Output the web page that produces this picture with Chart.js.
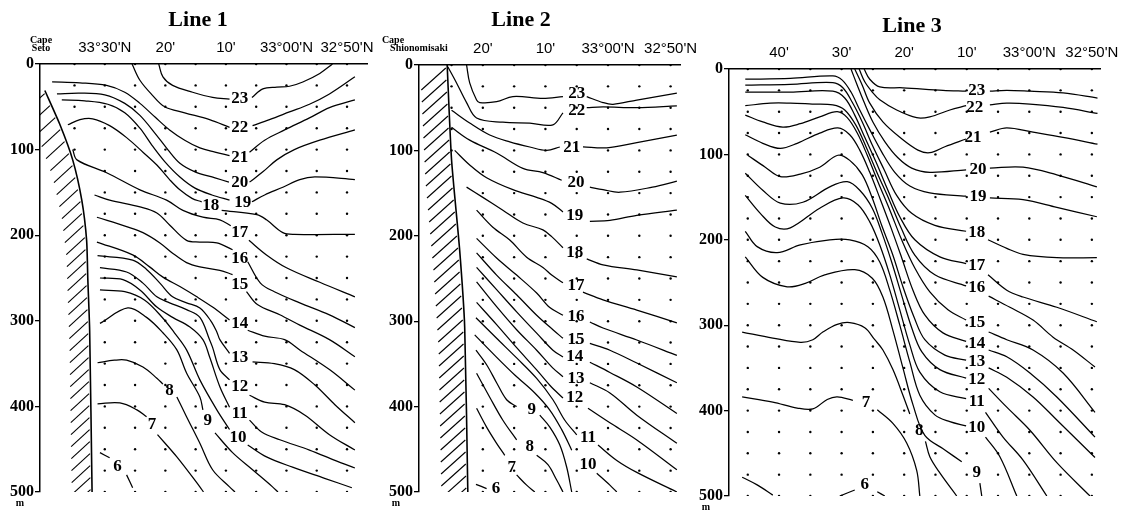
<!DOCTYPE html>
<html lang="en">
<head>
<meta charset="UTF-8">
<title>Temperature sections off Kii Peninsula</title>
<script src="https://cdn.jsdelivr.net/npm/chart.js"></script>
<style>
  body { margin: 0; background: #fff; }
  #wrap { position: relative; width: 1124px; height: 510px; }
  #wrap canvas { position: absolute; top: 0; }
</style>
</head>
<body>
<div id="wrap">
  <canvas id="line1" width="380" height="510" style="left:0"></canvas>
  <canvas id="line2" width="340" height="510" style="left:372px"></canvas>
  <canvas id="line3" width="440" height="510" style="left:684px"></canvas>
</div>
<script>
// x values are minutes of latitude north of 32°00' (33°30'N = 90), y is depth in m
const sampleDepths = [0, 25, 50, 75, 100, 125, 150, 175, 200, 225, 250, 275, 300, 325, 350, 375, 400, 425, 450, 475, 500];
const isotherms = [23, 22, 21, 20, 19, 18, 17, 16, 15, 14, 13, 12, 11, 10, 9, 8, 7, 6];

// ---- Line 1 (off Cape Seto) ----
const line1Stations = [95, 90, 85, 80, 75, 70, 65, 60, 55, 50];
const line1StationBottom = [100, 500, 500, 500, 500, 500, 500, 500, 500, 500];
const line1Ticks = [90, 80, 70, 60, 50];
const line1TickLabels = ["33°30'N", "20'", "10'", "33°00'N", "32°50'N"];
const line1Coast = [[99.9, 31], [97.4, 71], [95.3, 112], [93.8, 159], [93.0, 206], [92.8, 252], [92.5, 311], [92.1, 500]];
const line1Left = [
  [[81.1, 0], [80.4, 15], [78.8, 25], [75.5, 33], [72.2, 39], [69.4, 41]],
  [[85.5, 0], [84.2, 19], [82.2, 36], [80.1, 50], [76.8, 57], [72.7, 65], [69.4, 74]],
  [[98.7, 21], [94.1, 22], [89.7, 25], [86.7, 33], [84.2, 46], [81.7, 62], [79.3, 77], [76.8, 89], [74.3, 98], [71.8, 103], [69.4, 107]],
  [[97.9, 35], [94.1, 34], [90, 36], [86.7, 46], [84.2, 60], [81.7, 81], [79.6, 100], [77.6, 116], [75.1, 126], [71.8, 133], [69.5, 138]],
  [[97.1, 42], [93.3, 43], [89.5, 47], [86.7, 57], [84.2, 75], [82.2, 95], [80.1, 114], [77.6, 132], [75.1, 145], [72.3, 153], [69.4, 159]],
  [[96.1, 71], [94.1, 65], [92, 64], [89.2, 72], [86.4, 86], [83.7, 103], [81.4, 118], [79.3, 135], [77.6, 147], [75.6, 157], [74, 161]],
  [[95.3, 100], [94.6, 112], [89.7, 127], [84.2, 147], [79.8, 159], [77.1, 171], [73.8, 179], [71, 182], [69.2, 189]],
  [[91.7, 153], [89.2, 159], [84.2, 167], [81.4, 174], [79.3, 188], [76.5, 206], [74.3, 208], [71.5, 209], [68.9, 217]],
  [[91.3, 179], [86.4, 190], [83.7, 197], [80.9, 209], [78.8, 221], [76.5, 232], [74.3, 237], [71, 241], [68.9, 246]],
  [[91.3, 208], [85.4, 223], [82.6, 237], [80.4, 249], [77.6, 260], [74.8, 272], [72.2, 284], [69.4, 299]],
  [[91.2, 224], [85.4, 229], [83.1, 240], [80.9, 256], [78.8, 272], [76.5, 279], [74.3, 285], [72.5, 300], [71.5, 313], [71, 322], [69.4, 338]],
  [[90.8, 238], [86.4, 243], [83.7, 256], [81.4, 272], [79.3, 279], [76.5, 287], [74.3, 296], [72.7, 322], [72.2, 331], [71, 357], [69.4, 369]],
  [[90.8, 250], [87, 252], [84.2, 264], [81.4, 284], [78.8, 296], [76, 307], [73.8, 322], [72.7, 342], [71, 377], [69.4, 401]],
  [[90.8, 264], [86.7, 266], [83.4, 276], [80.4, 297], [78.5, 314], [76.5, 334], [74.3, 369], [71.5, 404], [69.4, 427]],
  [[90.8, 303], [86.2, 285], [83.1, 296], [80.4, 314], [78.1, 334], [76.5, 361], [74.3, 389], [73.8, 404]],
  [[91.2, 349], [88.4, 346], [86.4, 346], [83.7, 354], [81.4, 367], [80.4, 374]],
  [[91.2, 397], [87.5, 396], [84.7, 404], [83.1, 412]],
  [[90.8, 454], [89.2, 460]]
];
const line1Right = [
  [[65.7, 39], [63.9, 29], [61.6, 27], [59.5, 26], [57.3, 21], [54.5, 11], [52.4, 0]],
  [[65.6, 72], [62.8, 65], [59.5, 56], [56.2, 47], [52.9, 35], [48.7, 15]],
  [[66.1, 103], [63.6, 89], [60.3, 77], [56.2, 63], [52.9, 51], [48.7, 42]],
  [[66.1, 138], [63.9, 126], [61.6, 112], [58.7, 100], [54.5, 89], [48.7, 77]],
  [[65.7, 161], [63.6, 153], [60.6, 144], [57.8, 135], [55.3, 132], [48.7, 135]],
  [[70.7, 171], [64.9, 176], [63.3, 182], [60.6, 197], [58.7, 199], [48.7, 199]],
  [[66.2, 206], [63.3, 223], [60, 238], [54.5, 255], [48.7, 272]],
  [[66.4, 231], [64.3, 256], [62, 266], [57.8, 279], [52.9, 293], [48.7, 308]],
  [[66.6, 266], [64.8, 281], [61.1, 293], [57.8, 305], [52.9, 322], [48.7, 342]],
  [[66.4, 311], [63.6, 318], [60.3, 322], [57.8, 334], [52.9, 357], [48.7, 381]],
  [[65.6, 348], [62, 350], [58.7, 357], [55.3, 375], [52, 398], [48.7, 419]],
  [[66.1, 387], [63.6, 395], [60.3, 398], [57, 410], [52.9, 433], [48.7, 451]],
  [[66.1, 416], [64.1, 430], [61.1, 439], [56.2, 451], [52, 463], [48.7, 472]],
  [[66.4, 445], [63.3, 459], [59, 471], [53.7, 484], [49.2, 495]],
  [[71.8, 431], [68.9, 454], [65.6, 474], [62.3, 494], [61.4, 500]],
  [[78.1, 389], [76.5, 412], [74.3, 443], [72.2, 474], [69.4, 494], [68.5, 500]],
  [[81.3, 433], [78.1, 459], [74.3, 494], [73.7, 500]],
  [[86.4, 480], [85.4, 495]]
];
const line1LabelAt = [[67.7, 40], [67.7, 74], [67.7, 109], [67.7, 139], [67.2, 162], [72.5, 165], [67.7, 197], [67.7, 227], [67.7, 258],
  [67.7, 303], [67.7, 343], [67.7, 377], [67.7, 408], [68, 436], [73, 417], [79.3, 381], [82.2, 421], [87.9, 470]];

// ---- Line 2 (off Cape Shionomisaki) ----
const line2Stations = [85, 80, 75, 70, 65, 60, 55, 50];
const line2StationBottom = [100, 500, 500, 500, 500, 500, 500, 500];
const line2Ticks = [80, 70, 60, 50];
const line2TickLabels = ["20'", "10'", "33°00'N", "32°50'N"];
const line2Coast = [[85.7, 0], [85.0, 111], [83.7, 217], [82.9, 307], [82.4, 500]];
const line2Left = [
  [[82.6, 0], [82.1, 21], [81.0, 41], [80.5, 44], [77.8, 43], [75.2, 37], [70.4, 39], [67.2, 37]],
  [[85.6, 2], [84.2, 21], [82.6, 44], [81.0, 62], [76.8, 67], [72.5, 68], [68.8, 70], [67.2, 56]],
  [[85.0, 53], [82.1, 68], [78.9, 82], [75.7, 90], [72.5, 96], [69.8, 100], [67.7, 96]],
  [[85.0, 73], [82.1, 88], [77.8, 103], [73.6, 121], [70.4, 126], [67.4, 135]],
  [[84.5, 100], [82.1, 117], [79.4, 132], [75.2, 146], [71.4, 155], [69.0, 162], [67.2, 172]],
  [[82.6, 143], [80.0, 155], [76.8, 170], [73.6, 185], [70.4, 193], [69.0, 201], [67.2, 214]],
  [[81.0, 170], [78.4, 190], [75.7, 205], [73.0, 225], [70.4, 237], [69.0, 246], [67.2, 255]],
  [[81.0, 203], [77.8, 226], [74.6, 246], [71.4, 267], [69.3, 284], [67.2, 293]],
  [[81.0, 220], [77.8, 246], [74.6, 269], [71.4, 293], [68.8, 310], [67.2, 320]],
  [[81.0, 237], [77.8, 263], [74.6, 289], [71.4, 314], [68.8, 334], [67.2, 342]],
  [[81.0, 254], [77.8, 283], [74.6, 310], [71.4, 334], [68.8, 355], [67.2, 365]],
  [[81.0, 278], [77.8, 304], [74.6, 331], [71.4, 357], [69.3, 375], [67.2, 390]],
  [[81.1, 296], [77.8, 320], [74.6, 343], [71.4, 367], [68.8, 392], [66.9, 416], [65.0, 433]],
  [[81.3, 316], [78.1, 340], [74.9, 363], [71.7, 384], [69.3, 404], [67.4, 427], [65.8, 451]],
  [[81.1, 334], [79.4, 351], [77.8, 372], [76.2, 392], [74.6, 400]],
  [[81.0, 361], [78.9, 389], [76.8, 416], [74.6, 439]],
  [[81.0, 402], [79.4, 424], [77.8, 443], [76.5, 457]],
  [[81.1, 491], [79.4, 496]]
];
const line2Right = [
  [[63.4, 37], [60.8, 44], [59.2, 46], [55.4, 41], [49.0, 33]],
  [[63.4, 50], [60.8, 49], [55.4, 50], [49.0, 48]],
  [[64.0, 96], [60.2, 97], [55.4, 91], [49.0, 82]],
  [[62.9, 143], [60.8, 146], [58.1, 149], [52.9, 143], [49.0, 136]],
  [[62.9, 183], [59.7, 182], [55.4, 176], [49.0, 170]],
  [[63.4, 227], [60.8, 234], [55.4, 240], [49.0, 248]],
  [[64.0, 266], [60.8, 275], [55.4, 287], [49.0, 302]],
  [[62.9, 301], [60.8, 308], [55.4, 322], [49.0, 340]],
  [[62.9, 326], [59.7, 334], [55.4, 349], [49.0, 372]],
  [[62.9, 348], [59.7, 360], [55.4, 377], [49.0, 408]],
  [[62.9, 372], [59.7, 384], [55.4, 410], [49.0, 443]],
  [[63.2, 402], [59.7, 419], [55.4, 439], [49.0, 474]],
  [[61.6, 445], [58.6, 463], [55.4, 477], [49.0, 500]],
  [[61.8, 478], [59.7, 492], [58.6, 500]],
  [[70.9, 410], [69.3, 424], [67.7, 445], [66.6, 471], [65.8, 500]],
  [[71.4, 457], [69.6, 468], [68.2, 486], [67.2, 500]],
  [[74.6, 480], [73.0, 492], [71.7, 500]],
  []
];
const line2LabelAt = [[65.0, 33], [65.0, 53], [65.8, 97], [65.1, 138], [65.3, 176], [65.3, 220], [65.1, 258], [65.1, 295], [65.1, 321],
  [65.3, 342], [65.1, 367], [65.3, 390], [63.2, 436], [63.2, 468], [72.2, 404], [72.5, 447], [75.4, 471], [77.9, 496]];

// ---- Line 3 ----
const line3Stations = [105, 100, 95, 90, 85, 80, 75, 70, 65, 60, 55, 50];
const line3StationBottom = [500, 500, 500, 500, 500, 500, 500, 500, 500, 500, 500, 500];
const line3Ticks = [100, 90, 80, 70, 60, 50];
const line3TickLabels = ["40'", "30'", "20'", "10'", "33°00'N", "32°50'N"];
const line3Left = [
  [[86.4, 0], [85.5, 12], [83.9, 21], [80.2, 22], [73.8, 25], [70.1, 26]],
  [[87.2, 0], [86.3, 15], [85.1, 27], [83.9, 36], [81.2, 48], [78.0, 57], [75.9, 56], [72.7, 48], [70.1, 43]],
  [[87.9, 0], [86.7, 19], [85.5, 40], [83.4, 62], [80.7, 80], [77.8, 95], [75.9, 98], [73.5, 91], [70.1, 82]],
  [[88.5, 0], [87.5, 19], [86.4, 39], [85.0, 62], [83.1, 85], [81.0, 104], [78.8, 116], [75.9, 121], [70.1, 118]],
  [[105.4, 12], [98.2, 11], [91.4, 8], [89.9, 13], [88.5, 27], [87.1, 48], [85.5, 71], [83.6, 97], [81.5, 121], [79.1, 137], [75.9, 145], [70.1, 149]],
  [[105.4, 19], [98.2, 18], [91.4, 16], [89.8, 22], [88.3, 39], [86.7, 62], [85.1, 89], [83.2, 118], [81.2, 148], [78.8, 169], [75.1, 183], [70.1, 190]],
  [[105.4, 27], [98.2, 27], [91.4, 26], [89.5, 34], [87.9, 54], [86.3, 80], [84.5, 109], [82.6, 142], [80.7, 173], [78.3, 200], [74.3, 220], [70.1, 228]],
  [[105.4, 43], [101.4, 40], [98.2, 40], [94.7, 41], [91.4, 42], [89.5, 48], [87.7, 66], [86.1, 91], [84.3, 122], [82.4, 153], [80.5, 186], [78.3, 218], [75.1, 241], [70.1, 254]],
  [[105.4, 54], [102.6, 62], [99.4, 68], [96.6, 64], [93.5, 56], [90.7, 50], [89.1, 57], [87.5, 75], [85.9, 101], [84.2, 132], [82.3, 165], [80.4, 200], [78.3, 233], [75.9, 261], [73.0, 282], [70.1, 294]],
  [[105.4, 77], [102.6, 87], [99.8, 93], [97.1, 87], [93.5, 75], [90.6, 69], [88.7, 77], [87.1, 95], [85.5, 121], [83.9, 151], [82.1, 186], [80.4, 221], [78.6, 259], [76.7, 288], [73.8, 309], [70.1, 319]],
  [[105.0, 101], [102.2, 115], [99.8, 126], [96.6, 123], [93.5, 115], [90.6, 101], [88.7, 107], [86.7, 124], [85.1, 151], [83.6, 183], [81.8, 218], [80.2, 255], [78.4, 291], [76.7, 317], [73.5, 335], [70.1, 341]],
  [[105.4, 122], [102.6, 142], [99.8, 157], [96.2, 156], [91.9, 138], [89.1, 132], [87.1, 142], [85.1, 163], [83.6, 191], [82.0, 226], [80.4, 265], [78.8, 303], [77.2, 331], [74.3, 352], [70.1, 362]],
  [[105.4, 148], [103.0, 169], [100.6, 185], [98.2, 186], [93.5, 163], [89.8, 151], [87.4, 159], [85.5, 179], [83.9, 206], [82.3, 241], [80.7, 282], [79.1, 323], [77.5, 355], [74.3, 378], [70.1, 386]],
  [[105.4, 190], [103.5, 208], [100.3, 215], [96.6, 206], [91.9, 200], [88.7, 200], [85.8, 208], [83.9, 226], [82.3, 259], [80.7, 300], [79.1, 343], [77.5, 382], [75.1, 405], [72.7, 413], [70.1, 418]],
  [[105.4, 220], [102.6, 244], [98.7, 255], [95.8, 251], [92.7, 241], [87.9, 235], [85.1, 245], [83.4, 267], [81.8, 306], [80.2, 350], [78.6, 393], [76.7, 429], [73.5, 446], [70.8, 460]],
  [[105.9, 308], [101.0, 315], [96.6, 320], [94.6, 317], [93.0, 308], [90.7, 299], [88.7, 297], [86.3, 303], [84.7, 317], [83.4, 329], [81.8, 352], [80.2, 382], [79.1, 404]],
  [[105.9, 384], [101.0, 390], [97.1, 397], [94.6, 398], [92.3, 387], [90.7, 384], [88.2, 388]],
  [[90.3, 500], [87.9, 493]]
];
const line3Right = [
  [[66.3, 26], [63.6, 25], [59.9, 26], [54.6, 28], [49.1, 34]],
  [[66.3, 42], [63.6, 40], [59.9, 41], [54.6, 45], [49.1, 52]],
  [[66.3, 74], [63.6, 69], [59.4, 74], [54.6, 80], [49.1, 88]],
  [[66.3, 116], [61.0, 115], [55.6, 124], [49.2, 138]],
  [[66.3, 151], [61.0, 153], [55.6, 162], [49.2, 173]],
  [[66.6, 200], [63.6, 210], [61.0, 217], [55.6, 221], [49.2, 221]],
  [[66.6, 241], [63.6, 259], [61.0, 267], [55.6, 279], [49.2, 296]],
  [[66.5, 266], [63.1, 279], [59.4, 294], [56.2, 314], [53.0, 329], [49.5, 349]],
  [[66.5, 308], [63.6, 317], [59.4, 329], [54.6, 356], [49.5, 402]],
  [[66.5, 329], [63.6, 337], [59.9, 356], [55.6, 384], [49.5, 431]],
  [[66.5, 350], [63.6, 361], [59.4, 384], [55.6, 411], [49.5, 455]],
  [[66.5, 374], [63.6, 396], [59.9, 423], [55.6, 461], [50.3, 500]],
  [[67.0, 402], [64.2, 431], [61.0, 458], [57.2, 500]],
  [[67.0, 431], [64.7, 454], [62.0, 500]],
  [[67.9, 485], [67.6, 500]],
  [[76.6, 436], [75.9, 454], [74.3, 473], [71.6, 500]],
  [[84.3, 399], [81.8, 415], [79.6, 438], [78.0, 470], [77.5, 500]],
  [[84.3, 495], [83.1, 500]]
];
const line3Extra = [[[105.9, 478], [103.5, 487], [101.0, 499]]];
const line3LabelAt = [[68.4, 25], [68.7, 45], [69.0, 80], [68.2, 118], [68.2, 149], [68.4, 192], [68.4, 230], [68.4, 256], [68.4, 297],
  [68.4, 321], [68.4, 343], [68.4, 364], [68.4, 389], [68.4, 420], [68.4, 473], [77.6, 423], [86.1, 391], [86.3, 487]];

const serif = '"Liberation Serif", "Times New Roman", serif';

function sectionDecor(p) {
  return {
    id: 'sectionDecor',
    beforeDatasetsDraw(chart) {
      if (!p.coast) return;
      const { ctx, chartArea: a, scales: { x, y } } = chart;
      const pts = p.coast.map(([cx, cy]) => [x.getPixelForValue(cx), y.getPixelForValue(cy)]);
      const [dx, dy, gap] = p.hatch;
      ctx.save();
      ctx.beginPath();
      ctx.rect(a.left, a.top, a.right - a.left, a.bottom - a.top);
      ctx.clip();
      ctx.strokeStyle = '#000';
      ctx.lineWidth = 1.1;
      // land hatching on the left of the coastline
      for (let py = pts[0][1] + 3; py <= a.bottom; py += gap) {
        let k = 1;
        while (k < pts.length - 1 && pts[k][1] < py) k++;
        const t = (py - pts[k - 1][1]) / (pts[k][1] - pts[k - 1][1]);
        const px = pts[k - 1][0] + t * (pts[k][0] - pts[k - 1][0]);
        ctx.beginPath();
        ctx.moveTo(px - 1.5, py);
        ctx.lineTo(px - dx, py + dy);
        ctx.stroke();
      }
      ctx.restore();
    },
    afterDatasetsDraw(chart) {
      const { ctx, scales: { x, y } } = chart;
      ctx.save();
      ctx.fillStyle = '#000';
      ctx.textAlign = 'center';
      ctx.textBaseline = 'middle';
      ctx.font = 'bold 17px ' + serif;
      isotherms.forEach((t, i) => {
        const [lx, ly] = p.labelAt[i];
        ctx.fillText(String(t), x.getPixelForValue(lx), y.getPixelForValue(ly));
      });
      ctx.font = 'bold 22px ' + serif;
      ctx.fillText(p.title, p.titleAt[0], p.titleAt[1]);
      ctx.font = 'bold 10px ' + serif;
      p.cape.forEach(([txt, cx, cy]) => ctx.fillText(txt, cx, cy));
      ctx.fillText('m', p.unitAt[0], p.unitAt[1]);
      ctx.restore();
    }
  };
}

function sectionChart(id, p) {
  const line = pts => ({
    data: pts.map(([x, y]) => ({ x, y })),
    showLine: true, pointRadius: 0, borderColor: '#000', backgroundColor: '#000',
    borderWidth: 1.25, tension: 0.35
  });
  const datasets = [];
  if (p.coast) datasets.push(Object.assign(line(p.coast), { borderWidth: 1.6, tension: 0.2 }));
  isotherms.forEach((t, i) => {
    if (p.left[i].length) datasets.push(line(p.left[i]));
    if (p.right[i].length) datasets.push(line(p.right[i]));
  });
  (p.extra || []).forEach(seg => datasets.push(line(seg)));

  const dots = [];
  p.stations.forEach((s, i) => {
    sampleDepths.forEach(d => { if (d <= p.stationBottom[i]) dots.push({ x: s, y: d }); });
  });
  datasets.push({ data: dots, showLine: false, pointRadius: 1.2, pointBorderWidth: 0, backgroundColor: '#000' });

  return new Chart(document.getElementById(id), {
    type: 'scatter',
    data: { datasets },
    options: {
      responsive: false,
      animation: false,
      events: [],
      layout: { padding: p.pad },
      plugins: { legend: { display: false }, tooltip: { enabled: false } },
      scales: {
        x: {
          type: 'linear', position: 'top', reverse: true, min: p.xMin, max: p.xMax,
          afterBuildTicks: s => { s.ticks = p.ticks.map(v => ({ value: v })); },
          afterFit: s => { s.height = p.axisTop; s.paddingLeft = 0; s.paddingRight = 0; },
          ticks: {
            callback: (v, i) => p.tickLabels[i],
            font: { family: '"Liberation Sans", Arial, sans-serif', size: 15 },
            color: '#000', padding: 7, maxRotation: 0, autoSkip: false
          },
          grid: { display: false, drawTicks: false },
          border: { display: true, color: '#000', width: 1.5 }
        },
        y: {
          type: 'linear', reverse: true, min: 0, max: 500,
          afterFit: s => { s.width = p.axisLeft; s.paddingTop = 0; s.paddingBottom = 0; },
          ticks: { stepSize: 100, font: { family: serif, size: 16, weight: 'bold' }, color: '#000', padding: 1 },
          grid: { drawOnChartArea: false, drawTicks: true, tickLength: 5, color: '#000', lineWidth: 1.3 },
          border: { display: true, color: '#000', width: 1.5 }
        }
      }
    },
    plugins: [sectionDecor(p)]
  });
}

sectionChart('line1', {
  title: 'Line 1', titleAt: [198, 20], cape: [['Cape', 41, 40], ['Seto', 41, 48]], unitAt: [20, 503],
  xMin: 46.7, xMax: 100.7, axisLeft: 40, axisTop: 64, pad: { left: 0, right: 13, top: 0, bottom: 18 },
  ticks: line1Ticks, tickLabels: line1TickLabels, stations: line1Stations, stationBottom: line1StationBottom,
  coast: line1Coast, hatch: [20, 17, 12], left: line1Left, right: line1Right, labelAt: line1LabelAt
});

sectionChart('line2', {
  title: 'Line 2', titleAt: [149, 20], cape: [['Cape', 21, 40], ['Shionomisaki', 47, 48]], unitAt: [24, 503],
  xMin: 48.5, xMax: 90.2, axisLeft: 47, axisTop: 65, pad: { left: 0, right: 32, top: 0, bottom: 18 },
  ticks: line2Ticks, tickLabels: line2TickLabels, stations: line2Stations, stationBottom: line2StationBottom,
  coast: line2Coast, hatch: [26, 22, 12], left: line2Left, right: line2Right, labelAt: line2LabelAt
});

sectionChart('line3', {
  title: 'Line 3', titleAt: [228, 26], cape: [], unitAt: [22, 507],
  xMin: 48.7, xMax: 108.0, axisLeft: 45, axisTop: 69, pad: { left: 0, right: 24, top: 0, bottom: 14 },
  ticks: line3Ticks, tickLabels: line3TickLabels, stations: line3Stations, stationBottom: line3StationBottom,
  coast: null, left: line3Left, right: line3Right, extra: line3Extra, labelAt: line3LabelAt
});
</script>
</body>
</html>
